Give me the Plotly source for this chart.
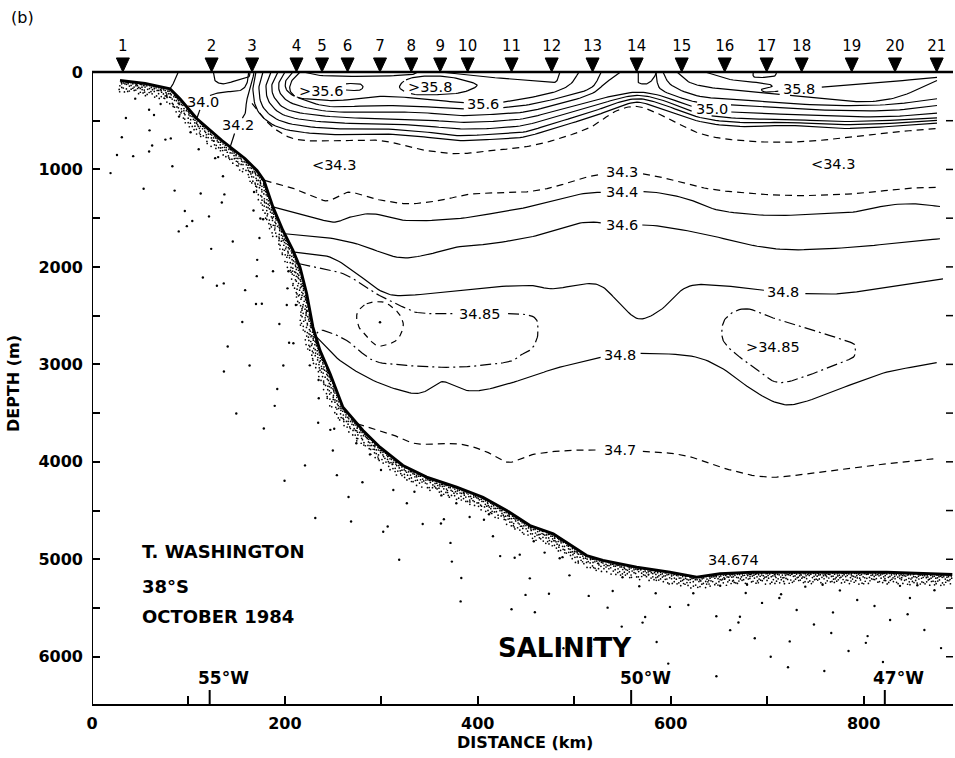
import numpy as np
import plotly.graph_objects as go

# ---------------- stations (distance along section, km) ----------------
station_num = [str(i) for i in range(1, 22)]
station_km = [32, 124, 166, 212, 238.5, 265, 298.6, 331, 361, 389.5, 435,
              476.6, 519, 564.7, 611.4, 656, 699.5, 735.8, 787.7, 832.6, 875.8]

# ---------------- bottom topography ----------------
bottom_km = [29.0, 55.0, 80.9, 91.2, 108.6, 134.8, 158.6, 171.1, 178.3, 187.7, 198.0,
             208.4, 215.7, 222.6, 229.1, 236.4, 246.8, 260.2, 281.0, 298.6, 322.4, 347.0,
             378.1, 405.4, 430.0, 454.1, 478.3, 512.9, 529.8, 564.7, 599.2, 627.0, 651.1,
             685.3, 754.8, 823.9, 892.0]
bottom_m = [87, 118, 172, 275, 477, 703, 887, 1011, 1113, 1387, 1626,
            1831, 2003, 2273, 2618, 2857, 3093, 3439, 3678, 3850, 4037, 4157,
            4260, 4363, 4499, 4653, 4738, 4961, 5012, 5081, 5132, 5183, 5148,
            5132, 5132, 5132, 5156]

# ---------------- axes ----------------
dist_ticks = list(range(0, 900, 100))
dist_labels = [str(v) if v % 200 == 0 else "" for v in dist_ticks]
depth_ticks = list(range(0, 6001, 500))
depth_labels = [str(v) if v % 1000 == 0 else "" for v in depth_ticks]
lon_labels = ["55°W", "50°W", "47°W"]
lon_km = [122, 559, 822]

# ---------------- isohalines near the shelf ----------------
s_shelf_km = [89.5, 86.1, 80.9]
s_shelf_m = [0, 87, 172]
s340_km = [108.6, 115.1, 122.3, 136.1, 153.4, 160.4, 162.5]
s340_m = [480, 310, 241, 207, 190, 121, 0]
s_st23_km = [125.8, 127.5, 136.1, 150.0, 162.1, 163.8]
s_st23_m = [0, 87, 121, 87, 53, 0]
s342_km = [143.1, 150.9, 158.6, 160.4, 165.6, 168.0]
s342_m = [775, 549, 429, 292, 121, 0]

# ---------------- upper-ocean isohalines ----------------
s358_top_km = [218.8, 236.4, 277.9, 319.3, 331.8, 338.0]
s358_top_m = [0, 36, 46, 36, 26, 0]
s358_core_km = [319.3, 324.5, 340.1, 366.0, 386.7, 399.2, 383.6, 360.8, 334.9, 319.3]
s358_core_m = [169, 87, 46, 46, 87, 139, 210, 231, 231, 169]
s356_core_km = [260.2, 263.4, 270.6, 277.9, 281.0, 277.9, 270.6, 263.4, 260.2]
s356_core_m = [154, 123, 118, 123, 154, 185, 190, 185, 154]
s358_mid_km = [360.8, 402.3, 454.1, 478.0, 483.1, 485.2]
s358_mid_m = [0, 46, 87, 108, 67, 0]
s358_east_km = [635.6, 661.5, 697.8, 705.0, 694.7, 697.8, 713.3, 732.3, 752.7, 806.6, 876.1]
s358_east_m = [0, 77, 118, 149, 174, 205, 195, 172, 159, 118, 56]
s_st14_km = [566.4, 566.4, 575.1, 581.9, 585.3]
s_st14_m = [0, 105, 121, 70, 0]
s_st17_km = [685.6, 687.4, 706.4, 709.9]
s_st17_m = [0, 53, 46, 0]

s356_west_km = [215.7, 207.4, 205.3, 213.6, 231.2, 257.1, 298.6, 340.1, 378.4, 412.6,
                446.9, 478.0, 495.6, 505.0]
s356_west_m = [0, 87, 190, 262, 282, 292, 251, 272, 310, 323, 275, 210, 128, 0]
s356_east_km = [606.5, 620.0, 640.8, 671.8, 723.7, 775.5, 806.6, 837.7, 876.1]
s356_east_m = [0, 108, 159, 190, 241, 292, 303, 251, 87]

s354_west_km = [208.4, 201.1, 202.2, 215.7, 246.8, 298.6, 340.1, 378.4, 412.6, 446.9,
                478.0, 516.3, 528.0]
s354_west_m = [0, 87, 190, 272, 354, 344, 354, 378, 374, 344, 282, 169, 0]
s354_east_km = [592.0, 601.3, 630.3, 671.8, 723.7, 775.5, 827.4, 876.1]
s354_east_m = [0, 139, 251, 282, 323, 344, 333, 275]

s352_west_km = [200.1, 193.9, 196.0, 210.5, 246.8, 298.6, 340.1, 378.4, 412.6, 446.9,
                478.0, 516.3, 533.0, 548.0]
s352_west_m = [0, 108, 231, 333, 405, 412, 416, 446, 436, 412, 344, 231, 108, 0]
s352_east_km = [584.7, 588.9, 609.6, 630.3, 671.8, 723.7, 775.5, 827.4, 876.1]
s352_east_m = [0, 169, 262, 313, 344, 374, 395, 395, 344]

band_km = [246.8, 298.6, 340.1, 378.4, 412.6, 446.9, 478.0, 516.3, 542.3, 565.1,
           588.9, 630.3, 671.8, 723.7, 775.5, 827.4, 876.1]
s350_km = [192.8, 186.6, 189.7, 205.3] + band_km
s350_m = [0, 128, 272, 395, 457, 480, 487, 515, 508, 480, 405, 303, 241, 207, 241,
          374, 416, 436, 457, 457, 423]
s348u_km = [185.6, 180.4, 184.6, 203.2] + band_km
s348u_m = [0, 149, 323, 457, 518, 531, 549, 583, 580, 549, 467, 364, 282, 241, 282,
           426, 477, 487, 508, 497, 470]
s346u_km = [177.3, 173.1, 178.3, 200.1] + band_km
s346u_m = [0, 169, 374, 518, 580, 583, 610, 652, 641, 618, 528, 416, 323, 275, 323,
           467, 518, 518, 539, 528, 497]
s344u_km = [170.0, 166.9, 173.1, 197.0] + band_km
s344u_m = [0, 190, 416, 580, 641, 634, 662, 703, 693, 669, 580, 467, 374, 310, 374,
           508, 559, 549, 580, 559, 525]
s343u_km = [165.9, 177.3, 191.8, 212.5] + band_km
s343u_m = [323, 467, 600, 693, 708, 703, 795, 839, 805, 772, 703, 569, 405, 354, 436,
           631, 703, 720, 682, 621, 580]

# ---------------- deep isohalines ----------------
s343_km = [179, 205.3, 239.8, 253.7, 267.5, 291.3, 326.3, 360.8, 395.0, 446.9, 478.0,
           512.9, 547.5, 581.6, 616.6, 651.1, 720.3, 789.0, 840.8, 879.2]
s343_m = [1113, 1182, 1318, 1285, 1233, 1298, 1352, 1318, 1250, 1233, 1182,
          1079, 1028, 1062, 1147, 1216, 1267, 1250, 1198, 1182]
s344_km = [188.5, 222.6, 249.9, 267.5, 291.3, 326.3, 378.1, 412.6, 443.7, 478.0, 512.9,
           549.2, 581.6, 616.6, 651.1, 703.0, 754.8, 789.0, 823.9, 851.2, 879.2]
s344_m = [1387, 1472, 1541, 1490, 1455, 1524, 1506, 1455, 1404, 1318, 1244,
          1233, 1233, 1301, 1421, 1472, 1455, 1438, 1370, 1352, 1380]
s346_km = [200, 239.8, 274.4, 315.9, 343.5, 378.1, 412.6, 454.1, 478.0, 512.9, 549.2,
           581.6, 633.5, 685.3, 726.8, 789.0, 840.8, 879.2]
s346_m = [1660, 1695, 1763, 1900, 1883, 1798, 1763, 1695, 1626, 1541, 1575,
          1575, 1660, 1780, 1824, 1798, 1746, 1711]
s348a_km = [210, 246.8, 274.4, 302.0, 326.3, 378.1, 412.6, 454.1, 478.0, 512.9, 529.8,
            547.5, 566.4, 588.9, 616.6, 651.1, 716.5, 772.1, 823.9, 882.3]
s348a_m = [1849, 1900, 2070, 2259, 2293, 2241, 2208, 2191, 2224, 2173, 2208,
           2378, 2532, 2447, 2208, 2191, 2259, 2276, 2208, 2122]
s3485_km = [215, 260.5, 291.7, 322.8, 343.5, 402.3, 454.1, 462.4, 457.2, 443.7, 430.0,
            378.1, 326.3, 291.7, 264.1, 239.8, 232]
s3485_m = [1968, 2070, 2259, 2413, 2475, 2481, 2498, 2652, 2824, 2909, 2977,
           3029, 3011, 2960, 2755, 2652, 2690]
s3485_in_km = [284.8, 302.0, 317.3, 322.8, 317.3, 306.9, 295.2, 284.8, 276.8, 274.8, 284.8]
s3485_in_m = [2378, 2362, 2468, 2601, 2734, 2796, 2806, 2714, 2618, 2481, 2378]
s3485_e_km = [678.8, 658.0, 652.9, 659.7, 685.6, 709.9, 737.5, 772.1, 789.4, 791.1,
              785.9, 747.8, 713.3, 678.8]
s3485_e_m = [2430, 2516, 2686, 2824, 3029, 3183, 3131, 2994, 2926, 2824,
             2772, 2652, 2550, 2430]
s348b_km = [233, 257.1, 291.7, 326.3, 343.5, 360.8, 371.2, 388.5, 412.6, 454.1, 485.2,
            547.5, 616.6, 651.1, 685.6, 713.3, 737.5, 789.4, 823.9, 875.8]
s348b_m = [2721, 2960, 3165, 3285, 3285, 3183, 3199, 3268, 3250, 3131, 3029,
           2899, 2909, 3029, 3268, 3404, 3388, 3199, 3080, 2983]
s347_km = [275, 309.0, 336.6, 378.1, 405.7, 430.0, 443.7, 461.1, 495.6, 545.4, 609.6,
           651.1, 699.5, 754.8, 823.9, 872.3]
s347_m = [3609, 3712, 3815, 3815, 3883, 4003, 3969, 3917, 3883, 3883, 3925,
          4055, 4157, 4106, 4020, 3969]

# ---------------- isohaline labels ----------------
label_text = ["34.0", "34.2", ">35.6", ">35.8", "35.6", "<34.3", "35.8", "35.0", "<34.3",
              "34.3", "34.4", "34.6", "34.8", "34.85", ">34.85", "34.8", "34.7", "34.674"]
label_km = [115.1, 150.9, 237.2, 350.4, 405.7, 251.0, 733.0, 642.5, 768.6,
            549.2, 549.2, 549.2, 716.5, 402.3, 706.4, 547.5, 547.5, 665.0]
label_m = [310, 549, 190, 152, 326, 959, 172, 378, 942,
           1028, 1233, 1575, 2259, 2481, 2824, 2899, 3883, 5007]

# ---------------- layout geometry ----------------
W, H = 955, 758
ML, MR, MT, MB = 92, 2, 33, 54
PW, PH = W - ML - MR, H - MT - MB
X_MAX = 892.7
Y_TOP, Y_BOT = -400, 6485
PX_KM = PW / X_MAX
PX_M = PH / (Y_BOT - Y_TOP)
FONT = "DejaVu Sans"

SOLID = "solid"
DASH = "7px,5px"
DASHDOT = "11px,4px,2px,4px"
LOOPDASH = "6px,5px"

lines = [
    (s_shelf_km, s_shelf_m, SOLID), (s340_km, s340_m, SOLID), (s_st23_km, s_st23_m, SOLID),
    (s342_km, s342_m, SOLID), (s358_top_km, s358_top_m, SOLID),
    (s358_core_km, s358_core_m, SOLID), (s356_core_km, s356_core_m, SOLID),
    (s358_mid_km, s358_mid_m, SOLID), (s358_east_km, s358_east_m, SOLID),
    (s_st14_km, s_st14_m, SOLID), (s_st17_km, s_st17_m, SOLID),
    (s356_west_km, s356_west_m, SOLID), (s356_east_km, s356_east_m, SOLID),
    (s354_west_km, s354_west_m, SOLID), (s354_east_km, s354_east_m, SOLID),
    (s352_west_km, s352_west_m, SOLID), (s352_east_km, s352_east_m, SOLID),
    (s350_km, s350_m, SOLID), (s348u_km, s348u_m, SOLID), (s346u_km, s346u_m, SOLID),
    (s344u_km, s344u_m, SOLID), (s343u_km, s343u_m, DASH),
    (s343_km, s343_m, DASH), (s344_km, s344_m, SOLID), (s346_km, s346_m, SOLID),
    (s348a_km, s348a_m, SOLID), (s3485_km, s3485_m, DASHDOT),
    (s3485_in_km, s3485_in_m, LOOPDASH), (s3485_e_km, s3485_e_m, DASHDOT),
    (s348b_km, s348b_m, SOLID), (s347_km, s347_m, DASH),
]


def smooth(xk, ym, n=10):
    """Catmull-Rom curve through the points, evaluated in screen proportions."""
    P = np.column_stack([np.asarray(xk, float) * PX_KM, np.asarray(ym, float) * PX_M])
    closed = np.allclose(P[0], P[-1])
    if closed:
        P = P[:-1]
        Q = np.vstack([P[-1], P, P[0], P[1]])
    else:
        Q = np.vstack([2 * P[0] - P[1], P, 2 * P[-1] - P[-2]])
    out = []
    for i in range(1, len(Q) - 2):
        p0, p1, p2, p3 = Q[i - 1], Q[i], Q[i + 1], Q[i + 2]
        for t in np.linspace(0, 1, n, endpoint=False):
            out.append(0.5 * (2 * p1 + (p2 - p0) * t + (2 * p0 - 5 * p1 + 4 * p2 - p3) * t * t
                              + (3 * p1 - p0 - 3 * p2 + p3) * t ** 3))
    out.append(Q[-2])
    return np.array(out)


def text_width(s, size):
    w = 0
    for c in s:
        w += 0.636 if c.isdigit() else (0.318 if c == "." else 0.84)
    return w * size


LABEL_SIZE = 14.5
boxes = []
for t, xk, ym in zip(label_text, label_km, label_m):
    if t == "34.674":
        continue
    boxes.append((xk * PX_KM, ym * PX_M, text_width(t, LABEL_SIZE) / 2 + 3, 6.5))

fig = go.Figure()

# ---------------- sediment stipple beneath the bottom ----------------
bx = np.asarray(bottom_km) * PX_KM
by = np.asarray(bottom_m) * PX_M
arc = np.concatenate([[0], np.cumsum(np.hypot(np.diff(bx), np.diff(by)))])
L = arc[-1]


def halton(n, base):
    seq = np.zeros(n)
    for k in range(n):
        f, r, i = 1.0, 0.0, k + 1
        while i > 0:
            f /= base
            r += f * (i % base)
            i //= base
        seq[k] = r
    return seq


def stipple(t, d):
    x = np.interp(t, arc, bx)
    y = np.interp(t, arc, by)
    ta, tb = np.clip(t - 4, 0, L), np.clip(t + 4, 0, L)
    dx = np.interp(tb, arc, bx) - np.interp(ta, arc, bx)
    dy = np.interp(tb, arc, by) - np.interp(ta, arc, by)
    nrm = np.hypot(dx, dy)
    nx, ny = -dy / nrm, dx / nrm
    return (x + nx * d) / PX_KM, (y + ny * d) / PX_M


n_dense = int(L * 2.0)
u, v = halton(n_dense, 2), halton(n_dense, 3)
dxk, dym = stipple(u * L, 0.5 + 11.5 * v ** 2)
fig.add_trace(go.Scatter(x=dxk, y=dym, mode="markers", hoverinfo="skip", showlegend=False,
                         marker=dict(size=1.7, color="black", line=dict(width=0))))
n_sparse = int(L / 6.5)
u, v = halton(n_sparse, 5), halton(n_sparse, 7)
sxk, sym = stipple(u * L, 12 + 92 * v ** 1.6)
fig.add_trace(go.Scatter(x=sxk, y=sym, mode="markers", hoverinfo="skip", showlegend=False,
                         marker=dict(size=2.4, color="black", line=dict(width=0))))

# bottom line
fig.add_trace(go.Scatter(x=bottom_km, y=bottom_m, mode="lines", hoverinfo="skip",
                         showlegend=False, line=dict(color="black", width=2.8)))

# ---------------- isohalines ----------------
for xk, ym, dash in lines:
    C = smooth(xk, ym)
    keep = np.ones(len(C), bool)
    for cx, cy, hw, hh in boxes:
        keep &= ~((np.abs(C[:, 0] - cx) < hw) & (np.abs(C[:, 1] - cy) < hh))
    xs, ys = [], []
    for (px, py), k in zip(C, keep):
        if k:
            xs.append(px / PX_KM)
            ys.append(py / PX_M)
        elif xs and xs[-1] is not None:
            xs.append(None)
            ys.append(None)
    fig.add_trace(go.Scatter(x=xs, y=ys, mode="lines", hoverinfo="skip", showlegend=False,
                             line=dict(color="black", width=1.2, dash=dash)))

# dot at the centre of the deep salinity core
fig.add_trace(go.Scatter(x=[298.6], y=[2567], mode="markers", hoverinfo="skip",
                         showlegend=False, marker=dict(size=2.5, color="black")))

# ---------------- station markers ----------------
hw_km = 6.5 / PX_KM
th_m = 14 / PX_M
tri_x, tri_y = [], []
for k in station_km:
    tri_x += [k - hw_km, k + hw_km, k, k - hw_km, None]
    tri_y += [-th_m, -th_m, 0, -th_m, None]
fig.add_trace(go.Scatter(x=tri_x, y=tri_y, mode="lines", fill="toself", fillcolor="black",
                         hoverinfo="skip", showlegend=False,
                         line=dict(color="black", width=1)))
fig.add_trace(go.Scatter(x=station_km, y=[-25 / PX_M] * len(station_km), mode="text",
                         text=station_num, textposition="middle center", hoverinfo="skip",
                         showlegend=False, textfont=dict(family=FONT, size=15, color="black")))

# ---------------- frame pieces ----------------
shapes = [
    dict(type="line", xref="x", yref="y", x0=0, x1=X_MAX, y0=0, y1=0,
         line=dict(color="black", width=2.6)),
    dict(type="line", xref="x", yref="y", x0=0, x1=0, y0=0, y1=Y_BOT,
         line=dict(color="black", width=2)),
]
for d in depth_ticks[1:]:
    shapes.append(dict(type="line", xref="paper", yref="y", x0=1, x1=1 - 7 / PW,
                       y0=d, y1=d, line=dict(color="black", width=1.5)))
for k in lon_km:
    shapes.append(dict(type="line", xref="x", yref="y", x0=k, x1=k, y0=Y_BOT,
                       y1=Y_BOT - 14 / PX_M, line=dict(color="black", width=2)))

annotations = []
for t, xk, ym in zip(label_text, label_km, label_m):
    annotations.append(dict(x=xk, y=ym, xref="x", yref="y", text=t, showarrow=False,
                            xanchor="center", yanchor="middle",
                            font=dict(family=FONT, size=LABEL_SIZE, color="black")))
for t, k in zip(lon_labels, lon_km):
    annotations.append(dict(x=k, y=6218, xref="x", yref="y", text=t, showarrow=False,
                            xshift=14, xanchor="center", yanchor="middle",
                            font=dict(family=FONT, size=17, color="black", weight="bold")))
for t, ym in zip(["T. WASHINGTON", "38°S", "OCTOBER 1984"], [4922, 5281, 5589]):
    annotations.append(dict(x=49.8, y=ym, xref="x", yref="y", text=t, showarrow=False,
                            xanchor="left", yanchor="middle",
                            font=dict(family=FONT, size=18, color="black", weight="bold")))
annotations += [
    dict(x=490.4, y=5910, xref="x", yref="y", text="SALINITY", showarrow=False,
         xanchor="center", yanchor="middle",
         font=dict(family=FONT, size=26, color="black", weight="bold")),
    dict(x=(22 - ML) / PW, y=(H - MB - 17) / PH, xref="paper", yref="paper", text="(b)",
         showarrow=False, xanchor="center", yanchor="middle",
         font=dict(family=FONT, size=16, color="black")),
    dict(x=(13 - ML) / PW, y=(H - MB - 384) / PH, xref="paper", yref="paper",
         text="DEPTH (m)", showarrow=False, textangle=-90, xanchor="center",
         yanchor="middle", font=dict(family=FONT, size=16, color="black", weight="bold")),
    dict(x=(525 - ML) / PW, y=(H - MB - 742) / PH, xref="paper", yref="paper",
         text="DISTANCE (km)", showarrow=False, xanchor="center", yanchor="middle",
         font=dict(family=FONT, size=16, color="black", weight="bold")),
]

fig.update_layout(
    width=W, height=H, autosize=False,
    margin=dict(l=ML, r=MR, t=MT, b=MB, pad=0),
    paper_bgcolor="white", plot_bgcolor="white",
    shapes=shapes, annotations=annotations, showlegend=False,
    xaxis=dict(range=[0, X_MAX], showgrid=False, zeroline=False, showline=True,
               linecolor="black", linewidth=2, ticks="inside", ticklen=8, tickwidth=1.5,
               tickcolor="black", tickvals=dist_ticks, ticktext=dist_labels,
               ticklabelstandoff=4,
               tickfont=dict(family=FONT, size=16, color="black", weight="bold")),
    yaxis=dict(range=[Y_BOT, Y_TOP], showgrid=False, zeroline=False, showline=False,
               ticks="inside", ticklen=8, tickwidth=1.5, tickcolor="black",
               tickvals=depth_ticks, ticktext=depth_labels, ticklabelstandoff=8,
               tickfont=dict(family=FONT, size=16, color="black", weight="bold")),
)

fig.write_html("out.html")
